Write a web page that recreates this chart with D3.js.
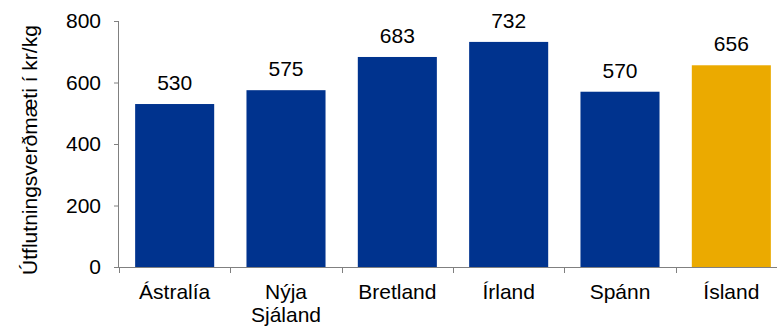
<!DOCTYPE html>
<html><head><meta charset="utf-8">
<script src="https://cdn.jsdelivr.net/npm/d3@7"></script>
<style>body{margin:0;background:#fff;overflow:hidden}svg{display:block;font-family:"Liberation Sans",Arial,sans-serif}</style>
</head><body>
<svg id="c" width="777" height="326"></svg>
<script>
const categories = ["Ástralía", "Nýja Sjáland", "Bretland", "Írland", "Spánn", "Ísland"];
const values = [530, 575, 683, 732, 570, 656];
const highlight = ["Ísland"];
const yTicks = [0, 200, 400, 600, 800];
const yTitle = "Útflutningsverðmæti í kr/kg";

const svg = d3.select("#c");
const x = d3.scaleBand().domain(categories).range([119, 787]).paddingInner(0.29).paddingOuter(0.145);
const y = d3.scaleLinear().domain([0, 800]).range([267, 21]);
const fs = 21;

svg.selectAll("rect.bar").data(categories).join("rect")
  .attr("x", d => x(d)).attr("width", x.bandwidth())
  .attr("y", (d, i) => y(values[i])).attr("height", (d, i) => y(0) - y(values[i]))
  .attr("fill", d => highlight.includes(d) ? "#EBAA00" : "#00338E");

svg.selectAll("text.val").data(categories).join("text")
  .attr("x", d => x(d) + x.bandwidth() / 2).attr("y", (d, i) => y(values[i]) - 14)
  .attr("text-anchor", "middle").attr("font-size", fs).attr("fill", "#000")
  .text((d, i) => values[i]);

// y axis
const ya = svg.append("g").attr("transform", "translate(119,0)")
  .call(d3.axisLeft(y).tickValues(yTicks).tickSize(5).tickPadding(13));
ya.select(".domain").attr("stroke", "#808080").attr("d", `M-0.5,${y(800)}V${y(0)}`);
ya.selectAll(".tick line").attr("stroke", "#808080");
ya.selectAll(".tick text").attr("font-size", fs).attr("fill", "#000").attr("font-family", "Liberation Sans, Arial, sans-serif");

// x axis
const step = x.step();
const xa = svg.append("g").attr("transform", `translate(0,${y(0)})`);
xa.append("line").attr("x1", 114).attr("x2", 787).attr("y1", 0.5).attr("y2", 0.5).attr("stroke", "#808080");
const bounds = d3.range(categories.length + 1).map(i => 119 + i * step);
xa.selectAll("line.t").data(bounds).join("line")
  .attr("x1", d => Math.round(d) + 0.5).attr("x2", d => Math.round(d) + 0.5)
  .attr("y1", 0).attr("y2", 6).attr("stroke", "#808080");
const lab = xa.selectAll("text.cat").data(categories).join("text")
  .attr("text-anchor", "middle").attr("font-size", fs).attr("fill", "#000");
lab.each(function(d) {
  const t = d3.select(this);
  const parts = d === "Nýja Sjáland" ? ["Nýja", "Sjáland"] : [d];
  parts.forEach((p, i) => t.append("tspan").attr("x", x(d) + x.bandwidth() / 2).attr("y", 32 + i * 22.5).text(p));
});

svg.append("text").attr("transform", `translate(37,150) rotate(-90)`)
  .attr("text-anchor", "middle").attr("font-size", fs).attr("fill", "#000").text(yTitle);
</script>
</body></html>
